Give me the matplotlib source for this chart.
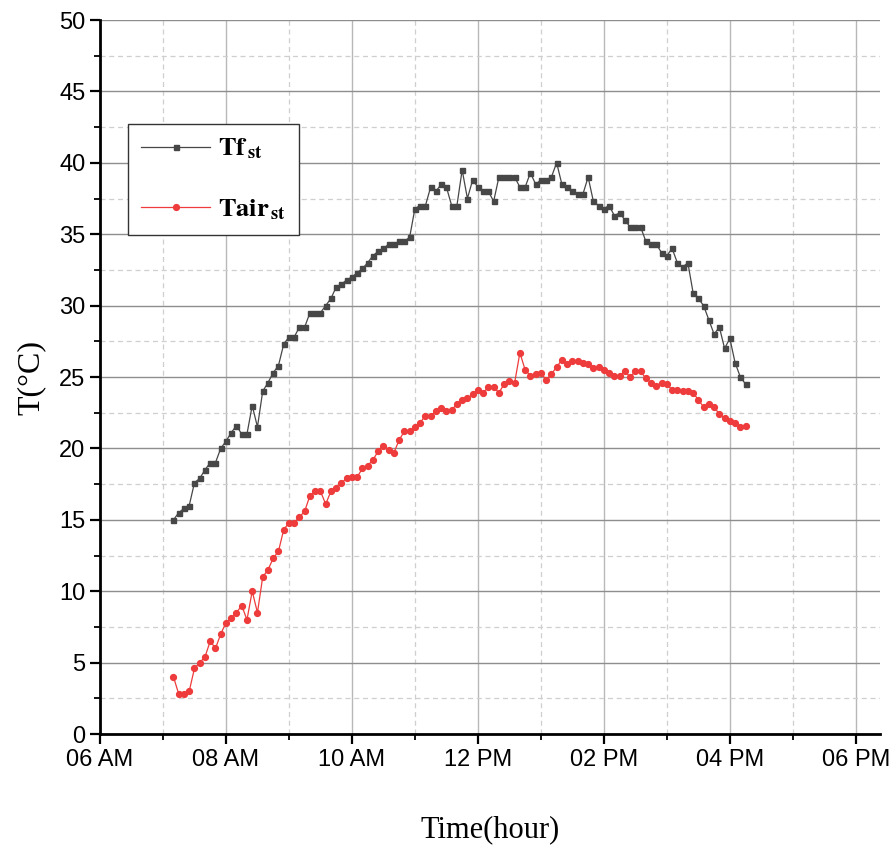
import pandas as pd
import matplotlib
matplotlib.use('Agg')
import matplotlib.pyplot as plt
import matplotlib.dates as mdates
from matplotlib import rcParams

# 配置
config = {
    "font.family": ['Liberation Sans Narrow', 'Liberation Sans', 'DejaVu Sans'],
    "font.size": 17,
    "mathtext.fontset": 'stix',
    'axes.unicode_minus': False
}
rcParams.update(config)

# 数据: 每5分钟一个点, 从 07:10 开始
start_time = '2020-01-01 07:10'
step = '5min'

tf_st = [15.0, 15.5, 15.8, 16.0, 17.6, 17.9, 18.5, 19.0, 19.0, 20.0, 20.5, 21.1, 21.6, 21.0, 21.0, 23.0, 21.5, 24.0,
         24.6, 25.3, 25.8, 27.3, 27.8, 27.8, 28.5, 28.5, 29.5, 29.5, 29.5, 30.0, 30.5, 31.3, 31.5, 31.8, 32.0, 32.3, 32.6,
         33.0, 33.5, 33.8, 34.0, 34.3, 34.3, 34.5, 34.5, 34.8, 36.8, 37.0, 37.0, 38.3, 38.0, 38.5, 38.3, 37.0, 37.0, 39.5,
         37.5, 38.8, 38.3, 38.0, 38.0, 37.3, 39.0, 39.0, 39.0, 39.0, 38.3, 38.3, 39.3, 38.5, 38.8, 38.8, 39.0, 40.0, 38.5,
         38.3, 38.0, 37.8, 37.8, 39.0, 37.3, 37.0, 36.8, 37.0, 36.3, 36.5, 36.0, 35.5, 35.5, 35.5, 34.5, 34.3, 34.3,
         33.7, 33.5, 34.0, 33.0, 32.7, 33.0, 30.9, 30.5, 30.0, 29.0, 28.0, 28.5, 27.0, 27.7, 26.0, 25.0, 24.5]

tair_st = [4.0, 2.8, 2.8, 3.0, 4.6, 5.0, 5.4, 6.5, 6.0, 7.0, 7.8, 8.1, 8.5, 9.0, 8.0, 10.0, 8.5, 11.0,
           11.5, 12.3, 12.8, 14.3, 14.8, 14.8, 15.2, 15.6, 16.7, 17.0, 17.0, 16.1, 17.0, 17.2, 17.6, 17.9, 18.0, 18.0, 18.6,
           18.8, 19.2, 19.8, 20.2, 19.9, 19.7, 20.6, 21.2, 21.2, 21.5, 21.8, 22.3, 22.3, 22.6, 22.8, 22.6, 22.7, 23.1, 23.4,
           23.5, 23.8, 24.1, 23.9, 24.3, 24.3, 23.9, 24.5, 24.7, 24.6, 26.7, 25.5, 25.1, 25.2, 25.3, 24.8, 25.2, 25.7, 26.2,
           25.9, 26.1, 26.1, 26.0, 25.9, 25.6, 25.7, 25.5, 25.3, 25.1, 25.1, 25.4, 25.0, 25.4, 25.4, 24.9, 24.6, 24.4,
           24.6, 24.5, 24.1, 24.1, 24.0, 24.0, 23.9, 23.4, 22.9, 23.1, 22.9, 22.4, 22.1, 21.9, 21.8, 21.5, 21.6]

times = pd.date_range(start_time, periods=len(tf_st), freq=step)

# 创建绘图
fig = plt.figure(figsize=(8.96, 8.48), dpi=100)
ax = fig.add_axes([0.1116, 0.1344, 0.8705, 0.842])

ax.plot(times, tf_st, color='#474747', lw=0.9, marker='s', markersize=3.6,
        label=r'$\mathbf{Tf}_{\,\mathbf{st}}$')
ax.plot(times, tair_st, color='#ee3b3b', lw=0.9, marker='o', markersize=4.2,
        label=r'$\mathbf{Tair}_{\,\mathbf{st}}$')

# 坐标轴范围
ax.set_xlim(pd.Timestamp('2020-01-01 06:00'), pd.Timestamp('2020-01-01 18:23'))
ax.set_ylim(0, 50)

ax.xaxis.set_major_locator(mdates.HourLocator(byhour=range(6, 19, 2)))
ax.xaxis.set_minor_locator(mdates.HourLocator(byhour=range(7, 19, 2)))
ax.xaxis.set_major_formatter(mdates.DateFormatter('%I %p'))
ax.set_yticks(range(0, 51, 5))
ax.set_yticks([v + 2.5 for v in range(0, 50, 5)], minor=True)

# 网格
ax.grid(which='major', axis='y', color='#8e8e8e', lw=1.0, ls='-')
ax.grid(which='major', axis='x', color='#b8b8b8', lw=1.0, ls='-')
ax.grid(which='minor', color='#cfcfcf', lw=0.9, ls=(0, (4, 3)))
ax.set_axisbelow(True)

# 边框和刻度
for side in ['top', 'right']:
    ax.spines[side].set_visible(False)
for side in ['left', 'bottom']:
    ax.spines[side].set_linewidth(2.0)
ax.tick_params(which='major', direction='out', length=7, width=1.6, labelsize=17)
ax.tick_params(which='minor', direction='out', length=4, width=1.3)

# 标签
ax.set_xlabel('Time(hour)', fontfamily='Liberation Serif', fontsize=22, labelpad=32)
ax.set_ylabel('T(°C)', fontfamily='Liberation Serif', fontsize=23, labelpad=10)

leg = ax.legend(loc='upper left', bbox_to_anchor=(0.036, 0.855), fontsize=19,
                handlelength=2.6, handletextpad=0.3, labelspacing=1.35,
                borderpad=0.5, borderaxespad=0, fancybox=False, framealpha=1)
leg.get_frame().set_edgecolor('#333333')
leg.get_frame().set_linewidth(1.0)

fig.savefig('out.png', dpi=100)
